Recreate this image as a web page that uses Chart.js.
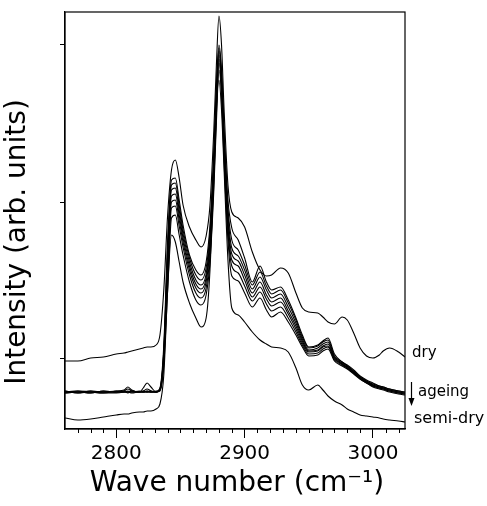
<!DOCTYPE html>
<html>
<head>
<meta charset="utf-8">
<script src="https://cdn.jsdelivr.net/npm/chart.js@4/dist/chart.umd.min.js"></script>
<style>
  html, body { margin: 0; padding: 0; background: #fff; }
</style>
</head>
<body>
<canvas id="spectra" width="487" height="506"></canvas>
<script>
// wave numbers (cm-1) shared by all spectra
var waveNumbers = [2760, 2770, 2780, 2790, 2800, 2806, 2809, 2812, 2818, 2821,
    2824, 2827, 2831, 2834, 2837, 2840, 2843, 2846, 2849, 2852,
    2857, 2862, 2866, 2870, 2873, 2876, 2878, 2880, 2882, 2884,
    2887, 2890, 2895, 2900, 2906, 2912, 2917, 2921, 2928, 2934,
    2940, 2945, 2950, 2957, 2961, 2965, 2970, 2976, 2980, 2985,
    2990, 2995, 3000, 3005, 3008, 3013, 3020, 3025];

// intensities (arb. units)
var dry = [68, 68, 71, 72, 75, 76, 77, 78, 80, 81, 82, 82, 84, 94, 139, 214, 259, 269, 251, 224,
    202, 189, 182, 193, 224, 299, 364, 413, 384, 319, 244, 217, 211, 202, 177, 159, 153, 154, 161, 156,
    136, 121, 117, 116, 112, 107, 105, 112, 109, 96, 81, 73, 71, 74, 78, 81, 77, 72];

var ageing1 = [37, 38, 37, 36, 38, 39, 42, 39, 37, 41, 46, 42, 37, 41, 84, 189, 249, 251, 229, 204,
    174, 159, 154, 167, 204, 279, 344, 384, 359, 299, 229, 201, 189, 171, 147, 163, 147, 139, 142, 129,
    111, 94, 82, 84, 88, 91, 75, 67, 64, 59, 53, 49, 46, 43, 42, 40, 38, 37];
var ageing2 = [38, 36, 38, 37, 37, 38, 40, 38, 37, 38, 40, 38, 37, 40, 79, 181, 244, 246, 224, 199,
    171, 154, 149, 161, 197, 271, 339, 381, 355, 294, 221, 189, 179, 164, 144, 157, 143, 135, 139, 126,
    109, 92, 81, 83, 87, 89, 73, 67, 63, 58, 52, 48, 45, 43, 42, 40, 38, 37];
var ageing3 = [36, 37, 36, 38, 37, 37, 37, 38, 37, 37, 38, 37, 37, 40, 77, 174, 239, 241, 219, 195,
    167, 149, 144, 155, 191, 264, 333, 378, 351, 289, 215, 181, 173, 159, 140, 152, 139, 131, 135, 122,
    106, 90, 79, 81, 85, 87, 72, 66, 63, 57, 52, 48, 44, 42, 41, 39, 37, 36];
var ageing4 = [37, 38, 37, 36, 36, 37, 38, 37, 38, 37, 37, 38, 37, 39, 74, 167, 233, 235, 214, 191,
    163, 145, 140, 151, 186, 259, 327, 374, 347, 284, 209, 175, 168, 154, 136, 147, 134, 127, 131, 118,
    103, 88, 78, 79, 83, 85, 71, 65, 62, 57, 51, 47, 44, 42, 41, 39, 37, 36];
var ageing5 = [38, 36, 37, 37, 38, 37, 37, 37, 37, 38, 37, 37, 38, 39, 71, 159, 227, 229, 209, 187,
    159, 141, 136, 147, 181, 253, 321, 370, 343, 279, 203, 169, 163, 149, 132, 142, 130, 123, 127, 115,
    100, 86, 77, 78, 82, 83, 70, 65, 61, 56, 51, 47, 43, 41, 40, 38, 36, 35];
var ageing6 = [36, 37, 38, 37, 37, 38, 36, 38, 37, 37, 38, 37, 37, 39, 69, 151, 221, 223, 203, 182,
    154, 136, 131, 141, 174, 246, 315, 366, 339, 274, 197, 163, 156, 143, 128, 137, 125, 118, 122, 111,
    97, 84, 75, 76, 80, 82, 69, 64, 61, 56, 50, 46, 43, 41, 40, 38, 36, 35];
var ageing7 = [37, 37, 36, 38, 37, 37, 37, 36, 37, 37, 37, 37, 37, 38, 64, 139, 211, 214, 194, 174,
    147, 129, 124, 134, 167, 239, 307, 359, 333, 267, 189, 153, 148, 136, 122, 131, 119, 112, 117, 107,
    94, 82, 73, 74, 78, 80, 68, 63, 60, 55, 50, 46, 42, 40, 39, 37, 35, 34];

var semiDry = [11, 9, 10, 12, 14, 15, 15, 16, 17, 17, 18, 18, 20, 25, 54, 139, 194, 187, 167, 147,
    126, 111, 102, 111, 159, 259, 324, 349, 319, 259, 169, 121, 114, 107, 97, 89, 85, 82, 81, 77,
    61, 44, 39, 44, 39, 33, 28, 24, 20, 17, 14, 13, 12, 11, 10, 9, 8, 7];

var xTickLabels = [2800, 2900, 3000];
var yTickValues = [71, 227, 384];

var FONT = "'DejaVu Sans', sans-serif";

function toPoints(arr) {
    return waveNumbers.map(function (x, i) { return { x: x, y: arr[i] }; });
}

var allSeries = [
    { name: "dry", values: dry },
    { name: "ageing 1", values: ageing1 },
    { name: "ageing 2", values: ageing2 },
    { name: "ageing 3", values: ageing3 },
    { name: "ageing 4", values: ageing4 },
    { name: "ageing 5", values: ageing5 },
    { name: "ageing 6", values: ageing6 },
    { name: "ageing 7", values: ageing7 },
    { name: "semi-dry", values: semiDry }
];

var datasets = allSeries.map(function (s) {
    return {
        label: s.name,
        data: toPoints(s.values),
        borderColor: "#000",
        borderWidth: 1.1,
        pointRadius: 0,
        fill: false,
        cubicInterpolationMode: "monotone"
    };
});

// frame, minor ticks, axis titles and the curve labels on the right
var framePlugin = {
    id: "frame",
    afterDraw: function (chart) {
        var ctx = chart.ctx;
        var area = chart.chartArea;
        var xs = chart.scales.x;
        var ys = chart.scales.y;
        ctx.save();
        ctx.strokeStyle = "#000";
        ctx.lineWidth = 1.2;
        ctx.strokeRect(area.left, area.top, area.right - area.left, area.bottom - area.top);

        // minor ticks every 10 cm-1
        ctx.lineWidth = 1;
        for (var w = 2770; w <= 3020; w += 10) {
            if (w % 100 === 0) continue;
            var px = Math.round(xs.getPixelForValue(w)) + 0.5;
            ctx.beginPath();
            ctx.moveTo(px, area.bottom);
            ctx.lineTo(px, area.bottom + 4);
            ctx.stroke();
        }

        ctx.fillStyle = "#000";
        ctx.textBaseline = "middle";
        ctx.textAlign = "center";

        // axis titles
        ctx.font = "28px " + FONT;
        ctx.fillText("Wave number (cm\u207B\u00B9)", (area.left + area.right) / 2 + 2, 484);
        ctx.save();
        ctx.translate(18, 242);
        ctx.rotate(-Math.PI / 2);
        ctx.fillText("Intensity (arb. units)", 0, 0);
        ctx.restore();

        // curve labels
        ctx.textAlign = "left";
        var last = waveNumbers.length - 1;
        var yDry = ys.getPixelForValue(dry[last]);
        var yAge = ys.getPixelForValue(ageing4[last]);
        var ySemi = ys.getPixelForValue(semiDry[last]);
        ctx.font = "15px " + FONT;
        ctx.fillText("dry", area.right + 7, yDry - 4);
        ctx.fillText("ageing", area.right + 13, yAge - 1);
        ctx.font = "16px " + FONT;
        ctx.fillText("semi-dry", area.right + 9, ySemi - 3);

        // arrow for ageing
        var ax = area.right + 6.5;
        ctx.lineWidth = 1.2;
        ctx.beginPath();
        ctx.moveTo(ax, yAge - 11);
        ctx.lineTo(ax, yAge + 10);
        ctx.stroke();
        ctx.beginPath();
        ctx.moveTo(ax - 3, yAge + 5);
        ctx.lineTo(ax, yAge + 13);
        ctx.lineTo(ax + 3, yAge + 5);
        ctx.closePath();
        ctx.fill();
        ctx.restore();
    }
};

var ctx = document.getElementById("spectra").getContext("2d");
new Chart(ctx, {
    type: "line",
    data: { datasets: datasets },
    options: {
        responsive: false,
        animation: false,
        layout: { padding: { left: 0, right: 82, top: 12, bottom: 0 } },
        plugins: {
            legend: { display: false },
            tooltip: { enabled: false }
        },
        scales: {
            x: {
                type: "linear",
                min: 2760,
                max: 3025,
                afterBuildTicks: function (scale) {
                    scale.ticks = xTickLabels.map(function (v) { return { value: v }; });
                },
                afterFit: function (scale) { scale.height = 77; },
                grid: { drawOnChartArea: false, tickLength: 9, color: "#000", lineWidth: 1 },
                border: { display: true, color: "#000", width: 1.2 },
                ticks: {
                    color: "#000",
                    font: { size: 20, family: FONT },
                    padding: 4,
                    maxRotation: 0,
                    callback: function (v) { return String(v); }
                },
                title: { display: false }
            },
            y: {
                type: "linear",
                min: 0,
                max: 417,
                afterBuildTicks: function (scale) {
                    scale.ticks = yTickValues.map(function (v) { return { value: v }; });
                },
                afterFit: function (scale) { scale.width = 65; },
                grid: { drawOnChartArea: false, tickLength: 5, color: "#000", lineWidth: 1 },
                border: { display: true, color: "#000", width: 1.2 },
                ticks: { display: false },
                title: { display: false }
            }
        }
    },
    plugins: [framePlugin]
});
</script>
</body>
</html>
